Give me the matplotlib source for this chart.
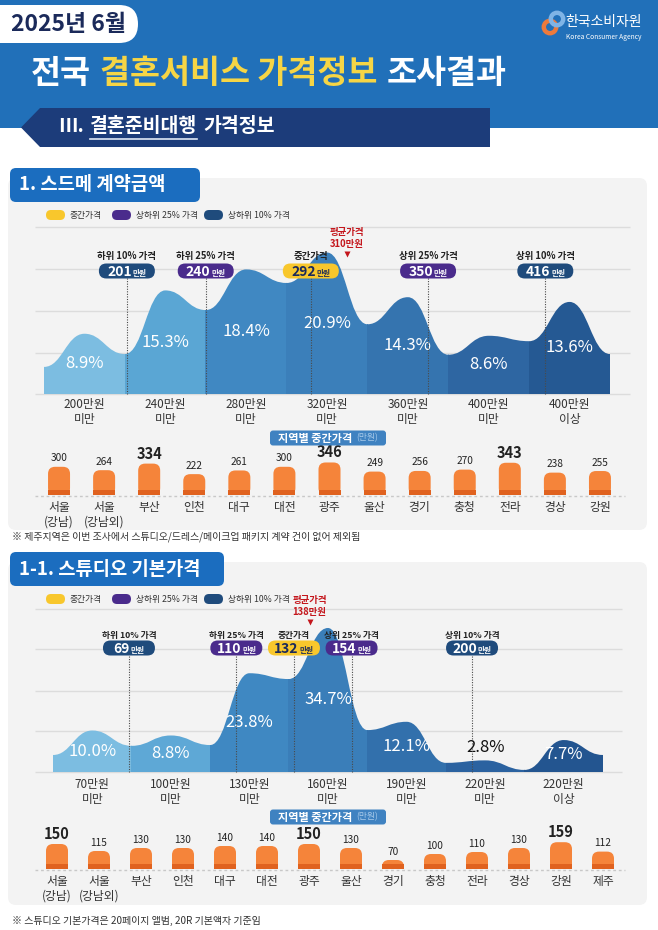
import numpy as np
import matplotlib
matplotlib.use('Agg')
import matplotlib.pyplot as plt
from matplotlib.patches import FancyBboxPatch, Rectangle, Polygon, PathPatch, Circle
from matplotlib.path import Path

plt.rcParams['font.family'] = ['Noto Sans CJK KR', 'DejaVu Sans']

# ---------------- data ----------------
header_date = '2025년 6월'
title_parts = ['전국', '결혼서비스 가격정보', '조사결과']
banner_parts = ['Ⅲ.', '결혼준비대행', '가격정보']

legend_names = ['중간가격', '상하위 25% 가격', '상하위 10% 가격']
marker_names = ['하위 10% 가격', '하위 25% 가격', '중간가격', '상위 25% 가격', '상위 10% 가격']
mean_name = '평균가격'
region_box_title = '지역별 중간가격'
region_box_unit = '(만원)'

# 1. 스드메 계약금액
sdm_title = '1. 스드메 계약금액'
sdm_bins = ['200만원\n미만', '240만원\n미만', '280만원\n미만', '320만원\n미만',
            '360만원\n미만', '400만원\n미만', '400만원\n이상']
sdm_pct = [8.9, 15.3, 18.4, 20.9, 14.3, 8.6, 13.6]
sdm_trough = [4.0, 5.9, 12.4, 16.4, 10.3, 5.8, 7.8, 5.9]   # wave height at bin edges
sdm_edges = [160, 200, 240, 280, 320, 360, 400, 480]       # price at bin edges (만원)
sdm_marker_vals = [201, 240, 292, 350, 416]
sdm_mean = 310
sdm_regions = ['서울\n(강남)', '서울\n(강남외)', '부산', '인천', '대구', '대전', '광주',
               '울산', '경기', '충청', '전라', '경상', '강원']
sdm_region_vals = [300, 264, 334, 222, 261, 300, 346, 249, 256, 270, 343, 238, 255]
sdm_note = '※ 제주지역은 이번 조사에서 스튜디오/드레스/메이크업 패키지 계약 건이 없어 제외됨'

# 1-1. 스튜디오 기본가격
std_title = '1-1. 스튜디오 기본가격'
std_bins = ['70만원\n미만', '100만원\n미만', '130만원\n미만', '160만원\n미만',
            '190만원\n미만', '220만원\n미만', '220만원\n이상']
std_pct = [10.0, 8.8, 23.8, 34.7, 12.1, 2.8, 7.7]
std_trough = [4.1, 6.3, 6.5, 22.4, 10.1, 2.2, 0.5, 4.1]
std_edges = [40, 70, 100, 130, 160, 190, 220, 280]
std_marker_vals = [69, 110, 132, 154, 200]
std_mean = 138
std_regions = ['서울\n(강남)', '서울\n(강남외)', '부산', '인천', '대구', '대전', '광주',
               '울산', '경기', '충청', '전라', '경상', '강원', '제주']
std_region_vals = [150, 115, 130, 130, 140, 140, 150, 130, 70, 100, 110, 130, 159, 112]
std_note = '※ 스튜디오 기본가격은 20페이지 앨범, 20R 기본액자 기준임'

# ---------------- style ----------------
HEADER_BLUE = '#2170b9'
NAVY_TXT = '#1b2a5a'
BANNER = '#1c3c7a'
YELLOW_T = '#f6d545'
BOX_BLUE = '#1b6dbf'
PANEL = '#f3f3f3'
GRID = '#dcdcdc'
P_YEL, P_PUR, P_NAV = '#f8c72c', '#4a2b8c', '#1f4b7c'
pill_cols = [P_NAV, P_PUR, P_YEL, P_PUR, P_NAV]
RED = '#c4161c'
BAR = '#f5843a'
BAR_DARK = '#e0621f'
sdm_colors = ['#7cbde1', '#5aa6d4', '#4088c2', '#3b7fba', '#3574af', '#2e66a2', '#255993']
std_colors = ['#7cbde1', '#5ea8d6', '#3f88c2', '#3a7eb9', '#3270ac', '#2b62a0', '#235590']

W, H = 658, 930
fig = plt.figure(figsize=(W / 100, H / 100), dpi=100)
fig.patch.set_facecolor('white')


def px_axes(z):
    a = fig.add_axes([0, 0, 1, 1], zorder=z)
    a.set_xlim(0, W)
    a.set_ylim(H, 0)
    a.axis('off')
    return a


bg = px_axes(0)
fg = px_axes(5)
R = fig.canvas.get_renderer()


def rbox(ax, x0, y0, x1, y1, r, color, z=1):
    p = FancyBboxPatch((x0, y0), x1 - x0, y1 - y0,
                       boxstyle=f'round,pad=0,rounding_size={r}',
                       fc=color, ec='none', zorder=z)
    ax.add_patch(p)
    return p


def seq_text(ax, x, y, parts, gap, **kw):
    out = []
    for txt, col in parts:
        t = ax.text(x, y, txt, color=col, ha='left', va='center', **kw)
        w = t.get_window_extent(R).width
        out.append((t, x, x + w))
        x += w + gap
    return out


def to_px(ax, x, y):
    return bg.transData.inverted().transform(ax.transData.transform((x, y)))


def value_pill(cx, cy, num, fc, tc, half=27):
    rbox(fg, cx - half, cy - 7.5, cx + half, cy + 7.5, 7.5, fc, z=3)
    t1 = fg.text(0, cy + 4.6, num, fontsize=10, fontweight='bold', color=tc,
                 ha='left', va='baseline', zorder=4)
    t2 = fg.text(0, cy + 4.6, '만원', fontsize=5.5, fontweight='bold', color=tc,
                 ha='left', va='baseline', zorder=4)
    w1 = t1.get_window_extent(R).width
    w2 = t2.get_window_extent(R).width
    s = cx - (w1 + w2 + 1) / 2
    t1.set_x(s)
    t2.set_x(s + w1 + 1)


def wave_path(peaks, troughs):
    n = len(peaks)
    pts = []
    for k in range(n):
        pts.append((k, troughs[k]))
        pts.append((k + 0.5, peaks[k]))
    pts.append((n, troughs[n]))
    verts = [(0, 0), pts[0]]
    codes = [Path.MOVETO, Path.LINETO]
    for (xa, ya), (xb, yb) in zip(pts[:-1], pts[1:]):
        d = (xb - xa) * 0.45
        verts += [(xa + d, ya), (xb - d, yb), (xb, yb)]
        codes += [Path.CURVE4] * 3
    verts += [(n, 0), (0, 0)]
    codes += [Path.LINETO, Path.CLOSEPOLY]
    return Path(verts, codes)


# ---------------- header ----------------
bg.add_patch(Rectangle((0, 0), W, 128, fc=HEADER_BLUE, ec='none', zorder=0))
rbox(bg, -30, 5, 138, 43, 19, 'white', z=1)
fg.text(11, 24.5, header_date, fontsize=16.5, fontweight='bold', color=NAVY_TXT,
        ha='left', va='center')

# logo
fg.add_patch(Circle((550, 27), 6.2, fill=False, ec='#ec7a3c', lw=3.2))
fg.add_patch(Circle((557, 19), 6.2, fill=False, ec='#7fb4e6', lw=3.2))
fg.text(565, 22, '한국소비자원', fontsize=10, color='white', ha='left', va='center')
fg.text(566, 37, 'Korea Consumer Agency', fontsize=4.8, color='white', ha='left', va='center')

# title
seq_text(fg, 31, 74, [(title_parts[0], 'white'),
                      (title_parts[1], YELLOW_T),
                      (title_parts[2], 'white')],
         gap=9, fontsize=23.5, fontweight='bold')

# banner
bg.add_patch(Polygon([(21, 127.5), (40, 108), (490, 108), (490, 147), (40, 147)],
                     closed=True, fc=BANNER, ec='none', zorder=2))
bt = seq_text(fg, 58, 127, [(banner_parts[0], 'white'),
                            (banner_parts[1], 'white'),
                            (banner_parts[2], 'white')],
              gap=6, fontsize=14, fontweight='bold')
fg.plot([bt[1][1], bt[1][2]], [139, 139], color='#dfe8f5', lw=1.2)


# ---------------- section builder ----------------
def section(top, title, title_right, panel_bottom, legend_y, grid_ys, grid_x1,
            ax_x0, ax_x1, base_y, px_pct, pct, trough, colors, bins, edges,
            marker_vals, mean_val, name_y, pill_y, mean_y,
            xlab_y, box_y, bar_x0, bar_x1, bar_base, bar_lo, bar_px, regions,
            region_vals, reg_y, note, note_y, pct_min, pill_half, name_fs):
    rbox(bg, 8, top + 10, 647, panel_bottom, 8, PANEL, z=1)
    rbox(bg, 10, top, title_right, top + 34, 6, BOX_BLUE, z=2)
    fg.text(19, top + 17, title, fontsize=13.5, fontweight='bold', color='white',
            ha='left', va='center')

    # legend
    lx = [46, 112, 204]
    for x, nm, c in zip(lx, legend_names, [P_YEL, P_PUR, P_NAV]):
        rbox(fg, x, legend_y - 5, x + 19, legend_y + 5, 5, c, z=3)
        fg.text(x + 24, legend_y, nm, fontsize=6.3, color='#333333', ha='left', va='center')

    # grid
    bg.hlines(grid_ys, 35, grid_x1, color=GRID, lw=1, zorder=2)

    # area chart
    top_y = grid_ys[0] - 20
    ax = fig.add_axes([ax_x0 / W, 1 - base_y / H, (ax_x1 - ax_x0) / W, (base_y - top_y) / H],
                      zorder=2)
    n = len(pct)
    ax.set_xlim(0, n)
    ax.set_ylim(0, (base_y - top_y) / px_pct)
    ax.axis('off')
    path = wave_path(pct, trough)
    for k in range(n):
        pp = PathPatch(path, fc=colors[k], ec='none', lw=0)
        ax.add_patch(pp)
        pp.set_clip_path(Rectangle((k - 0.003, -1), 1.006, 200, transform=ax.transData))
    for k, v in enumerate(pct):
        if v < 5:
            ax.text(k + 0.5, v + 3.0, f'{v:.1f}%', fontsize=12, color='#111111',
                    ha='center', va='center')
        else:
            ax.text(k + 0.5, max(v * 0.5, pct_min), f'{v:.1f}%', fontsize=12,
                    color='white', ha='center', va='center')

    # x labels
    for k, lab in enumerate(bins):
        px, _ = to_px(ax, k + 0.5, 0)
        fg.text(px, xlab_y, lab, fontsize=8.5, color='#333333', ha='center', va='top',
                linespacing=1.2)

    # markers
    idx = np.arange(len(edges))
    for nm, val, col in zip(marker_names, marker_vals, pill_cols):
        xd = np.interp(val, edges, idx)
        px, _ = to_px(ax, xd, 0)
        fg.plot([px, px], [pill_y + 7.5, base_y], color='#4a4a4a', lw=0.8,
                ls=(0, (1, 1.3)), zorder=2)
        fg.text(px, name_y, nm, fontsize=name_fs, fontweight='bold', color='#222222',
                ha='center', va='center')
        value_pill(px, pill_y, str(val), col, NAVY_TXT if col == P_YEL else 'white',
                   half=pill_half)
    xm = np.interp(mean_val, edges, idx)
    px, _ = to_px(ax, xm, 0)
    fg.text(px, mean_y, f'{mean_name}\n{mean_val}만원', fontsize=6.8, fontweight='bold',
            color=RED, ha='center', va='center', linespacing=1.2)
    fg.plot([px], [mean_y + 16], marker='v', ms=5, color=RED, mec='none')

    # region box
    t1 = fg.text(0, box_y, region_box_title, fontsize=8, fontweight='bold', color='white',
                 ha='left', va='center', zorder=4)
    t2 = fg.text(0, box_y, region_box_unit, fontsize=6.3, color='#a9cbea',
                 ha='left', va='center', zorder=4)
    w1 = t1.get_window_extent(R).width
    w2 = t2.get_window_extent(R).width
    tot = w1 + w2 + 4
    s = 328 - tot / 2
    t1.set_x(s)
    t2.set_x(s + w1 + 4)
    rbox(fg, s - 8, box_y - 7.5, s + tot + 8, box_y + 7.5, 3, '#3f82c1', z=3)

    # bars
    m = len(region_vals)
    bar_top = bar_base - 42
    bax = fig.add_axes([bar_x0 / W, 1 - bar_base / H, (bar_x1 - bar_x0) / W,
                        (bar_base - bar_top) / H], zorder=2)
    bax.set_xlim(-0.5, m - 0.5)
    bax.set_ylim(bar_lo, bar_lo + (bar_base - bar_top) / bar_px)
    bax.axis('off')
    xu = m / (bar_x1 - bar_x0)
    yu = 1 / bar_px
    bw = 22 * xu
    thr = sorted(region_vals)[-3]
    for i, v in enumerate(region_vals):
        p = FancyBboxPatch((i - bw / 2, 0), bw, v,
                           boxstyle=f'round,pad=0,rounding_size={7 * xu}',
                           mutation_aspect=yu / xu, fc=BAR, ec='none')
        bax.add_patch(p)
        bax.add_patch(Rectangle((i - bw / 2, bar_lo), bw, 5 * yu, fc=BAR_DARK, ec='none'))
        big = v >= thr
        bax.annotate(str(v), (i, v), xytext=(0, 1.5 if big else 2.5),
                     textcoords='offset points',
                     ha='center', va='bottom', fontsize=10.5 if big else 7.3,
                     fontweight='bold' if big else 'normal', color='#222222',
                     annotation_clip=False)
        px, _ = to_px(bax, i, bar_lo)
        fg.text(px, reg_y, regions[i], fontsize=8.5, color='#333333', ha='center',
                va='top', linespacing=1.15)
    bg.plot([35, 625], [bar_base + 0.5, bar_base + 0.5], color='#c8c8c8', lw=1,
            ls=(0, (2, 2)), zorder=2)

    fg.text(12, note_y, note, fontsize=7.2, color='#333333', ha='left', va='center')


section(top=168, title=sdm_title, title_right=200, panel_bottom=530, legend_y=215,
        grid_ys=[227, 269, 311, 353, 394], grid_x1=630,
        ax_x0=44, ax_x1=610, base_y=394, px_pct=6.77, pct=sdm_pct, trough=sdm_trough,
        colors=sdm_colors, bins=sdm_bins, edges=sdm_edges,
        marker_vals=sdm_marker_vals, mean_val=sdm_mean, name_y=256, pill_y=271,
        mean_y=238, xlab_y=398, box_y=438, bar_x0=36.5, bar_x1=622.5, bar_base=495,
        bar_lo=0, bar_px=0.094, regions=sdm_regions, region_vals=sdm_region_vals,
        reg_y=501, note=sdm_note, note_y=537, pct_min=3.6, pill_half=28, name_fs=6.8)

section(top=552, title=std_title, title_right=224, panel_bottom=905, legend_y=599,
        grid_ys=[609, 649, 691, 731, 772], grid_x1=622,
        ax_x0=53, ax_x1=603, base_y=772, px_pct=4.15, pct=std_pct, trough=std_trough,
        colors=std_colors, bins=std_bins, edges=std_edges,
        marker_vals=std_marker_vals, mean_val=std_mean, name_y=635, pill_y=648,
        mean_y=606, xlab_y=778, box_y=817, bar_x0=36, bar_x1=624, bar_base=869,
        bar_lo=25, bar_px=0.2, regions=std_regions, region_vals=std_region_vals,
        reg_y=875, note=std_note, note_y=921, pct_min=4.2, pill_half=26, name_fs=6.3)

fig.savefig('out.png', dpi=100, facecolor='white')
